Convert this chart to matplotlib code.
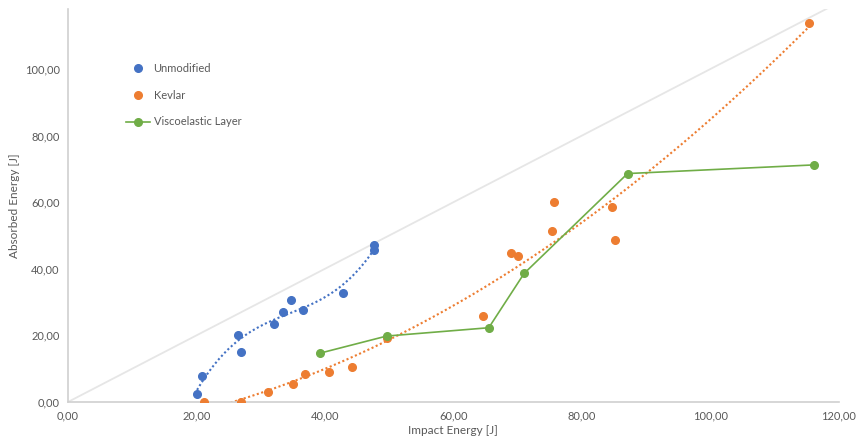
import matplotlib.pyplot as plt
import numpy as np

plt.rcParams['font.family'] = ['Lato', 'DejaVu Sans']

# Unmodified (blue)
unmod_x = [20.1, 20.8, 26.4, 27.0, 32.1, 33.5, 34.7, 36.6, 42.8, 47.7, 47.6]
unmod_y = [2.4, 7.9, 20.2, 14.9, 23.5, 26.9, 30.7, 27.7, 32.7, 47.0, 45.6]

# Kevlar (orange)
kev_x = [21.2, 26.9, 31.2, 35.1, 36.9, 40.6, 44.2, 49.6, 64.6, 68.9, 70.1,
         75.3, 75.7, 84.7, 85.1, 115.3]
kev_y = [0.0, 0.0, 3.0, 5.4, 8.3, 9.0, 10.4, 19.3, 25.9, 44.6, 43.8,
         51.5, 60.0, 58.7, 48.5, 113.8]

# Viscoelastic Layer (green)
visc_x = [39.3, 49.6, 65.5, 71.0, 87.1, 116.1]
visc_y = [14.7, 19.8, 22.3, 38.6, 68.6, 71.2]

xticks = [0, 20, 40, 60, 80, 100, 120]
yticks = [0, 20, 40, 60, 80, 100]

blue = '#4472C4'
orange = '#ED7D31'
green = '#70AD47'
grey_txt = '#595959'

fig = plt.figure(figsize=(8.6, 4.42), dpi=100)
ax = fig.add_axes([0.079, 0.0905, 0.8965, 0.889])

# reference line y = x
ax.plot([0, 120], [0, 120], color='#E6E6E6', lw=1.3, zorder=1)

# trendlines
p_u = np.polyfit(unmod_x, unmod_y, 3)
tu = np.linspace(min(unmod_x), max(unmod_x), 200)
ax.plot(tu, np.polyval(p_u, tu), color=blue, lw=1.5, ls=(0, (1, 1.2)), zorder=2)

p_k = np.polyfit(kev_x, kev_y, 2)
tk = np.linspace(min(kev_x), max(kev_x), 300)
ax.plot(tk, np.polyval(p_k, tk), color=orange, lw=1.5, ls=(0, (1, 1.2)), zorder=2)

ax.plot(unmod_x, unmod_y, 'o', color=blue, ms=5.5, label='Unmodified', zorder=3)
ax.plot(kev_x, kev_y, 'o', color=orange, ms=5.5, label='Kevlar', zorder=3)
ax.plot(visc_x, visc_y, 'o-', color=green, ms=5.5, lw=1.2, label='Viscoelastic Layer', zorder=3)

ax.set_xlim(0, 120)
ax.set_ylim(0, 118)
ax.set_xticks(xticks)
ax.set_yticks(yticks)
ax.set_xticklabels([f'{v:.2f}'.replace('.', ',') for v in xticks])
ax.set_yticklabels([f'{v:.2f}'.replace('.', ',') for v in yticks])
ax.tick_params(length=0, labelsize=8, colors=grey_txt, pad=6)

for s in ['top', 'right']:
    ax.spines[s].set_visible(False)
for s in ['left', 'bottom']:
    ax.spines[s].set_color('#D0D0D0')
    ax.spines[s].set_linewidth(1.2)

ax.set_xlabel('Impact Energy [J]', fontsize=8.5, color=grey_txt, labelpad=3)
ax.set_ylabel('Absorbed Energy [J]', fontsize=8.5, color=grey_txt, labelpad=3)

ax.legend(loc='upper left', bbox_to_anchor=(0.075, 0.862), frameon=False,
          fontsize=8, handlelength=2.2, labelspacing=1.4, borderpad=0,
          borderaxespad=0, handletextpad=0.3, labelcolor=grey_txt)

fig.savefig('out.png', dpi=100)
